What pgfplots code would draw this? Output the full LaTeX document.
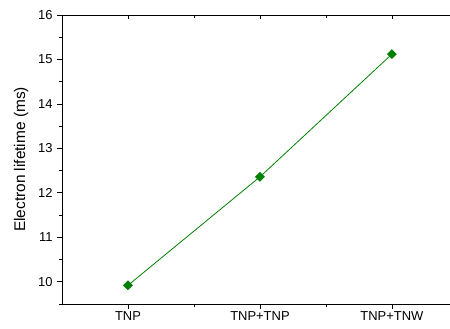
\documentclass[border=0pt]{standalone}
\usepackage{pgfplots}
\pgfplotsset{compat=1.18}
\usepackage{fontspec}
\setmainfont{Liberation Sans}
\begin{document}
\begin{tikzpicture}
\begin{axis}[
  name=ax,
  scale only axis,
  width=388bp, height=289bp,
  xmin=-0.5, xmax=2.44,
  ymin=9.5, ymax=16,
  axis x line*=bottom,
  axis y line*=left,
  axis line style={line width=0.9pt, -},
  xtick={0,1,2},
  xticklabels={TNP,TNP+TNP,TNP+TNW},
  minor xtick={0.5,1.5},
  ytick={10,11,12,13,14,15,16},
  minor ytick={9.5,10.5,11.5,12.5,13.5,14.5,15.5},
  tick align=outside,
  major tick length=5bp,
  minor tick length=3bp,
  tick style={line width=0.7pt, black},
  ticklabel style={font=\fontsize{13}{15}\selectfont},
  yticklabel style={xshift=-1bp},
  /pgf/number format/assume math mode=true,
  ylabel={Electron lifetime (ms)},
  ylabel style={font=\fontsize{15.5}{18}\selectfont, at={(axis description cs:-0.086,0.5)}, anchor=south, inner sep=0pt},
  xticklabel style={yshift=1bp},
  clip=false,
]
\addplot[color={rgb,255:red,0;green,128;blue,0}, line width=0.8pt, mark=square*, mark size=3.1pt,
  mark options={rotate=45, fill={rgb,255:red,0;green,128;blue,0}}]
  coordinates {(0,9.92) (1,12.36) (2,15.12)};
\end{axis}
\begin{axis}[
  scale only axis,
  width=388bp, height=289bp,
  xmin=-0.5, xmax=2.44,
  ymin=9.5, ymax=16,
  axis x line*=top,
  axis y line=none,
  axis line style={line width=0.9pt, -},
  xtick={0,1,2},
  xticklabels={},
  minor xtick={0.5,1.5},
  tick align=inside,
  major tick length=4bp,
  minor tick length=3bp,
  tick style={line width=0.7pt, black},
]
\end{axis}
\pgfresetboundingbox
\path (ax.south west) ++(-62bp,-25bp) coordinate (bl);
\path (ax.north east) ++(0bp,15bp) coordinate (tr);
\path[use as bounding box] (bl) rectangle (tr);
\end{tikzpicture}
\end{document}
